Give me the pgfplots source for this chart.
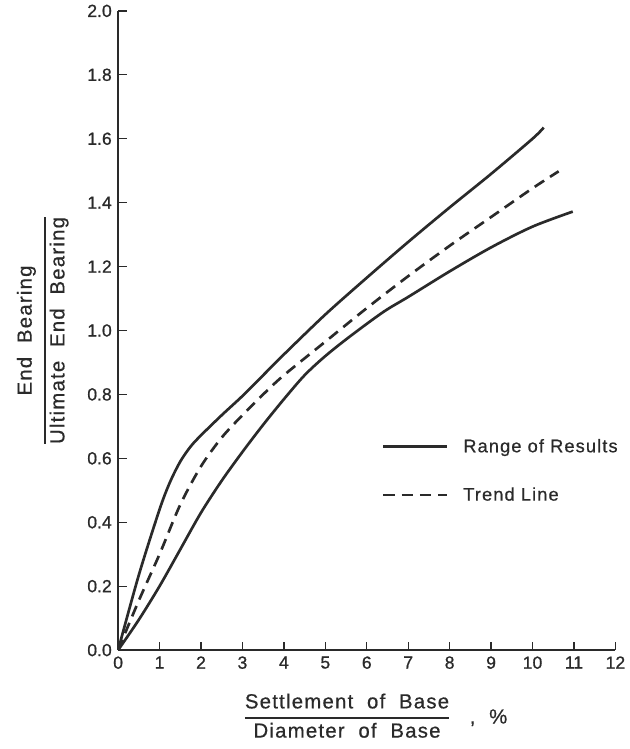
\documentclass[border=0pt]{standalone}
\usepackage{amsmath}
\usepackage{pgfplots}
\pgfplotsset{compat=1.18}
\usepackage{fontspec}
\setmainfont{Liberation Sans}
\newfontfamily\lblfont[LetterSpace=6,FakeBold=0.6]{Liberation Sans}
\newfontfamily\tickfont[FakeBold=0.8]{Liberation Sans}
\definecolor{ink}{HTML}{2A2A2A}
\newcommand\frc[3]{$\vcenter{\hbox{\setlength\arrayrulewidth{1.3pt}\renewcommand\arraystretch{1.0}%
\begin{tabular}{@{}c@{}}#1\\\noalign{\vskip#3}\hline\noalign{\vskip2pt}#2\end{tabular}}}$}
\begin{document}
\begin{tikzpicture}
\begin{axis}[
  name=ax,
  scale only axis,
  width=354pt, height=455pt,
  xmin=0, xmax=12, ymin=0, ymax=2.0,
  axis x line=bottom, axis y line=left,
  axis line style={-, ink, line width=0.9pt},
  xtick={0,1,...,12}, ytick={0,0.2,...,2.0},
  yticklabel style={/pgf/number format/fixed, /pgf/number format/fixed zerofill, /pgf/number format/precision=1},
  /pgf/number format/assume math mode=true,
  tick align=inside, major tick length=6pt,
  tick style={ink, line width=0.9pt},
  ticklabel style={font=\tickfont\fontsize{12.5}{14}\selectfont, text=ink},
  xticklabel style={yshift=-1pt},
  yticklabel style={xshift=-1pt},
  xlabel={\frc{Settlement\ \ of\ \ Base}{Diameter\ \ of\ \ Base}{1.5pt}\ \ \ ,\ \ \%},
  xlabel style={font=\lblfont\fontsize{14.5}{16}\selectfont, text=ink, at={(axis description cs:0.245,-0.107)}, anchor=west},
  ylabel={\frc{End\ \ Bearing}{Ultimate\ \ End\ \ Bearing}{4pt}},
  ylabel style={font=\lblfont\fontsize{14.5}{16}\selectfont, text=ink, at={(axis description cs:-0.150,0.5)}, anchor=center, rotate=0},
  legend style={draw=none, fill=none, at={(axis cs:6.36,0.67)}, anchor=north west,
    font=\lblfont\fontsize{13}{15}\selectfont, text=ink, row sep=19.5pt, inner sep=0pt},
  legend cell align=left,
  legend image code/.code={\draw[#1] (0pt,0pt) -- (45pt,0pt);},
]
\addplot[ink, line width=1.9pt, smooth, tension=0.5] coordinates {
(0,0) (0.5,0.235) (1,0.44) (1.25,0.525) (1.5,0.59) (1.75,0.637) (2,0.672) (2.5,0.735) (3,0.795) (3.5,0.86) (4,0.925) (5,1.05) (6,1.165) (7,1.277) (8,1.385) (9,1.49) (10,1.6) (10.27,1.635)
};
\addlegendentry{\hspace{9pt}Range of Results}
\addplot[ink, line width=1.9pt, smooth, tension=0.5, forget plot] coordinates {
(0,0) (0.5,0.095) (1,0.2) (1.5,0.315) (2,0.43) (2.5,0.53) (3,0.62) (3.5,0.705) (4,0.785) (4.5,0.86) (5,0.92) (5.6,0.982) (6.4,1.058) (7,1.105) (8,1.185) (9,1.26) (10,1.325) (10.97,1.372)
};
\addplot[ink, line width=1.9pt, smooth, tension=0.5, dash pattern=on 8pt off 5pt] coordinates {
(0,0) (0.5,0.155) (1,0.30) (1.5,0.455) (2,0.575) (2.5,0.665) (3,0.735) (3.5,0.8) (4,0.86) (5,0.965) (6,1.07) (7,1.17) (8,1.265) (9,1.355) (10,1.445) (10.63,1.498)
};
\addlegendentry{\hspace{9pt}Trend Line}
\end{axis}
\coordinate (bl) at (current bounding box.south west);
\coordinate (tr) at (current bounding box.north east);
\pgfresetboundingbox
\path ([xshift=-8pt]bl) rectangle (tr);
\end{tikzpicture}
\end{document}
